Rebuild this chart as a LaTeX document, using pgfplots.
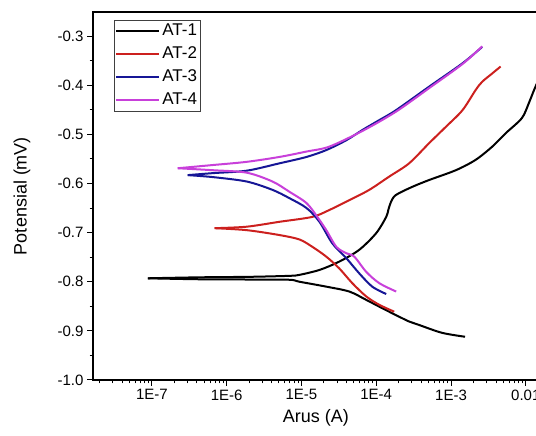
\documentclass[border=0pt]{standalone}
\usepackage{pgfplots}
\pgfplotsset{compat=1.18}
\usepackage{fontspec}
\setmainfont{Liberation Sans}

\definecolor{atred}{RGB}{204,32,30}
\definecolor{atblue}{RGB}{22,22,150}
\definecolor{atmag}{RGB}{200,64,218}

\begin{document}
\begin{tikzpicture}
\begin{axis}[
    scale only axis,
    width=446pt, height=368pt,
    xmode=log,
    xmin=1.633e-8, xmax=0.015,
    ymin=-1.0, ymax=-0.251,
    xtick={1e-7,1e-6,1e-5,1e-4,1e-3,1e-2},
    xticklabels={1E-7,1E-6,1E-5,1E-4,1E-3,0.01},
    minor xtick={2e-8,3e-8,4e-8,5e-8,6e-8,7e-8,8e-8,9e-8,
                 2e-7,3e-7,4e-7,5e-7,6e-7,7e-7,8e-7,9e-7,
                 2e-6,3e-6,4e-6,5e-6,6e-6,7e-6,8e-6,9e-6,
                 2e-5,3e-5,4e-5,5e-5,6e-5,7e-5,8e-5,9e-5,
                 2e-4,3e-4,4e-4,5e-4,6e-4,7e-4,8e-4,9e-4,
                 2e-3,3e-3,4e-3,5e-3,6e-3,7e-3,8e-3,9e-3},
    ytick={-1.0,-0.9,-0.8,-0.7,-0.6,-0.5,-0.4,-0.3},
    minor y tick num=1,
    yticklabel style={/pgf/number format/.cd, fixed, fixed zerofill, precision=1, assume math mode=true},
    tick pos=left,
    tick align=outside,
    major tick length=6pt,
    minor tick length=3.5pt,
    every tick/.style={black, line width=1pt},
    axis line style={line width=1.3pt},
    ticklabel style={font=\fontsize{15}{18}\selectfont},
    xlabel={Arus (A)},
    ylabel={Potensial (mV)},
    label style={font=\fontsize{18}{21}\selectfont},
    x label style={at={(axis description cs:0.5,-0.103)}, anchor=center},
    y label style={at={(axis description cs:-0.159,0.5)}, anchor=center},
    legend cell align=left,
    legend image code/.code={\draw[#1] (0pt,0pt) -- (43pt,0pt);},
    legend style={at={(0.047,0.978)}, anchor=north west, draw=black!75,
                  line width=0.8pt, font=\fontsize{17}{19}\selectfont,
                  nodes={text height=12pt, text depth=3.5pt, inner sep=2pt},
                  row sep=3.5pt, inner sep=1pt},
    every axis plot/.append style={line width=2pt, line join=round, smooth, tension=0.5},
]
% AT-1
\addplot[black, forget plot] coordinates {
(1.54e-3,-0.912) (7.59e-4,-0.904) (3.74e-4,-0.888) (2.75e-4,-0.881)
(1.36e-4,-0.858) (7.36e-5,-0.837) (4.37e-5,-0.820) (2.15e-5,-0.810)
(9.40e-6,-0.800) (6.92e-6,-0.796) (2.03e-6,-0.7955) (4.37e-7,-0.795)
(8.85e-8,-0.793)
};
\addplot[black] coordinates {
(8.85e-8,-0.793)
(4.37e-7,-0.791) (2.03e-6,-0.790) (6.92e-6,-0.788) (9.40e-6,-0.786)
(1.74e-5,-0.776) (3.21e-5,-0.759) (5.93e-5,-0.735) (1.0e-4,-0.701)
(1.36e-4,-0.668) (1.45e-4,-0.654) (1.57e-4,-0.638) (1.83e-4,-0.6235)
(3.02e-4,-0.607) (5.09e-4,-0.593) (1.16e-3,-0.573) (2.13e-3,-0.552)
(3.56e-3,-0.525) (5.36e-3,-0.498) (8.85e-3,-0.467) (1.10e-2,-0.436)
(1.32e-2,-0.406) (1.74e-2,-0.365)
};
\addlegendentry{AT-1}
% AT-2
\addplot[atred, forget plot] coordinates {
(1.74e-4,-0.861) (1.10e-4,-0.847) (7.36e-5,-0.830) (4.79e-5,-0.803)
(3.21e-5,-0.773) (2.15e-5,-0.749) (1.40e-5,-0.729) (9.40e-6,-0.714)
(5.09e-6,-0.705) (1.85e-6,-0.695) (6.92e-7,-0.691)
};
\addplot[atred] coordinates {
(6.92e-7,-0.691)
(1.85e-6,-0.688) (5.09e-6,-0.678) (1.40e-5,-0.668) (2.36e-5,-0.654)
(4.37e-5,-0.634) (8.07e-5,-0.613) (1.49e-4,-0.586) (2.75e-4,-0.559)
(5.09e-4,-0.518) (8.49e-4,-0.485) (1.42e-3,-0.451) (2.13e-3,-0.410)
(2.61e-3,-0.393) (3.56e-3,-0.376) (4.60e-3,-0.362)
};
\addlegendentry{AT-2}
% AT-3
\addplot[atblue, forget plot] coordinates {
(1.36e-4,-0.825) (8.85e-5,-0.810) (5.93e-5,-0.783) (3.98e-5,-0.752)
(2.59e-5,-0.722) (1.74e-5,-0.678) (1.17e-5,-0.650) (6.92e-6,-0.630)
(4.10e-6,-0.613) (1.85e-6,-0.596) (6.50e-7,-0.587) (3.02e-7,-0.583)
};
\addplot[atblue] coordinates {
(3.02e-7,-0.583)
(6.50e-7,-0.579) (1.85e-6,-0.574) (5.09e-6,-0.559) (1.17e-5,-0.546)
(2.15e-5,-0.532) (3.98e-5,-0.512) (6.56e-5,-0.491) (1.10e-4,-0.471)
(1.83e-4,-0.451) (5.09e-4,-0.403) (1.42e-3,-0.3555) (2.61e-3,-0.322)
};
\addlegendentry{AT-3}
% AT-4
\addplot[atmag, forget plot] coordinates {
(1.85e-4,-0.820) (1.10e-4,-0.803) (7.36e-5,-0.780) (5.09e-5,-0.749)
(3.98e-5,-0.742) (2.93e-5,-0.729) (2.15e-5,-0.695) (1.63e-5,-0.668)
(1.17e-5,-0.640) (6.92e-6,-0.617) (4.10e-6,-0.596) (1.85e-6,-0.578)
(6.50e-7,-0.573) (2.22e-7,-0.569)
};
\addplot[atmag] coordinates {
(2.22e-7,-0.569)
(6.50e-7,-0.5625) (1.85e-6,-0.556) (5.09e-6,-0.546) (1.17e-5,-0.535)
(2.36e-5,-0.525) (6.56e-5,-0.493) (1.83e-4,-0.454) (5.09e-4,-0.406)
(1.42e-3,-0.357) (2.61e-3,-0.321)
};
\addlegendentry{AT-4}
\end{axis}
\pgfresetboundingbox
\path[use as bounding box] (-93pt,-56pt) rectangle (443pt,380pt);
\end{tikzpicture}
\end{document}
